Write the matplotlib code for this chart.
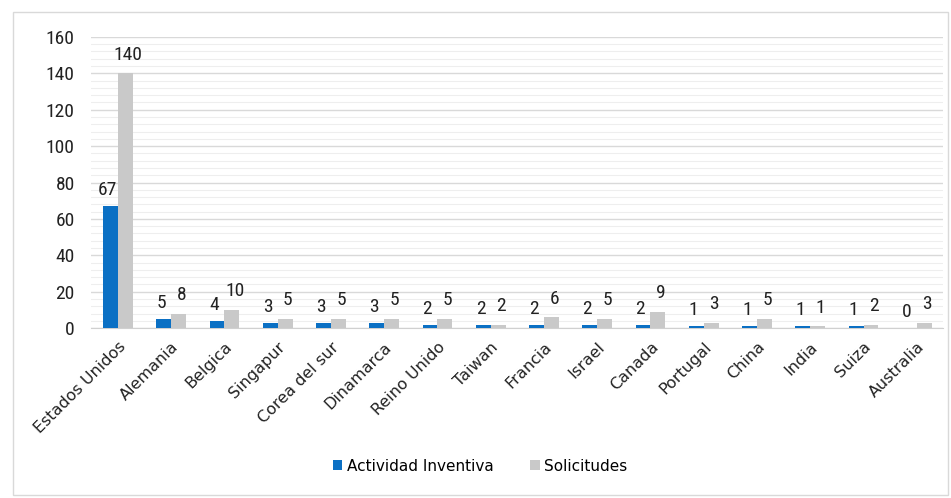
import matplotlib.pyplot as plt
import numpy as np
from matplotlib.patches import Rectangle
from matplotlib.ticker import MultipleLocator
from matplotlib import font_manager

paises = ['Estados Unidos', 'Alemania', 'Belgica', 'Singapur', 'Corea del sur',
          'Dinamarca', 'Reino Unido', 'Taiwan', 'Francia', 'Israel', 'Canada',
          'Portugal', 'China', 'India', 'Suiza', 'Australia']
actividad = [67, 5, 4, 3, 3, 3, 2, 2, 2, 2, 2, 1, 1, 1, 1, 0]
solicitudes = [140, 8, 10, 5, 5, 5, 5, 2, 6, 5, 9, 3, 5, 1, 2, 3]

azul = '#0b70c4'
gris = '#c9c9c9'

# numeros en tipografia estrecha si la hay
nombres = {f.name for f in font_manager.fontManager.ttflist}
num_fp = font_manager.FontProperties(family='DejaVu Sans', stretch='condensed', size=14)
for cand in ['Liberation Sans Narrow', 'Roboto Condensed', 'Open Sans Condensed']:
    if cand in nombres:
        num_fp = font_manager.FontProperties(family=cand, size=14)
        break

fig = plt.figure(figsize=(9.51, 4.98), dpi=100)
ax = fig.add_axes([0.096, 0.341, 0.896, 0.585])

# marco exterior
fig.patches.append(Rectangle((13 / 951, 3 / 498), 935 / 951, 483 / 498,
                             transform=fig.transFigure, fill=False,
                             edgecolor='#d9d9d9', linewidth=1.0))

x = np.arange(len(paises))
w = 0.28
ax.bar(x - w / 2, actividad, w, color=azul, label='Actividad Inventiva', zorder=3)
ax.bar(x + w / 2, solicitudes, w, color=gris, label='Solicitudes', zorder=3)

for xi, v in zip(x, actividad):
    ax.annotate(str(v), (xi - w / 2, v), xytext=(-2, 5), textcoords='offset points',
                ha='center', va='bottom', fontproperties=num_fp, color='#222222')
for xi, v in zip(x, solicitudes):
    ax.annotate(str(v), (xi + w / 2, v), xytext=(2, 7), textcoords='offset points',
                ha='center', va='bottom', fontproperties=num_fp, color='#222222')

ax.set_xlim(-0.5, len(paises) - 0.5)
ax.set_ylim(0, 160)
ax.yaxis.set_major_locator(MultipleLocator(20))
ax.yaxis.set_minor_locator(MultipleLocator(4))
ax.grid(axis='y', which='major', color='#d9d9d9', linewidth=1.0, zorder=0)
ax.grid(axis='y', which='minor', color='#eeeeee', linewidth=0.8, zorder=0)
ax.set_axisbelow(True)

for s in ['top', 'right', 'left']:
    ax.spines[s].set_visible(False)
ax.spines['bottom'].set_color('#d0d0d0')

ax.set_xticks(x)
ax.set_xticklabels(paises, rotation=45, ha='right', rotation_mode='anchor',
                   fontsize=11.5, color='#222222')
ax.tick_params(axis='x', length=0, pad=8)
ax.tick_params(axis='y', which='both', length=0, pad=12, labelcolor='#222222')
for t in ax.get_yticklabels():
    t.set_fontproperties(num_fp)

fig.legend(loc='center', bbox_to_anchor=(0.505, 0.064), ncol=2, frameon=False,
           fontsize=11, handlelength=0.6, handleheight=0.6, handletextpad=0.3,
           columnspacing=2.4)

fig.savefig('out.png', dpi=100)
